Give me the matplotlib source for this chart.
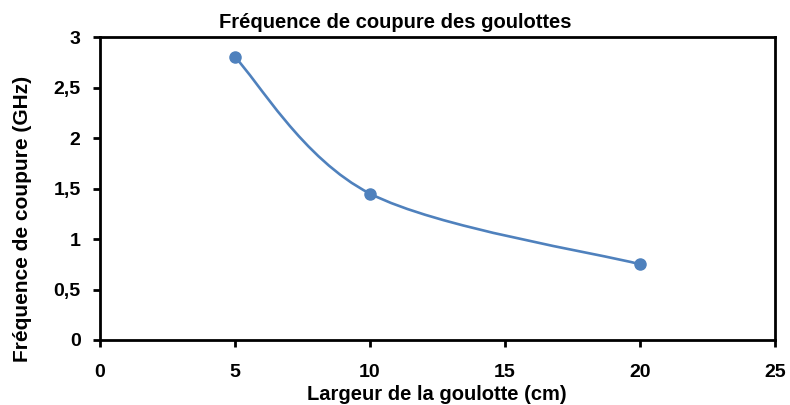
import matplotlib.pyplot as plt
import numpy as np
from matplotlib.path import Path
from matplotlib.patches import PathPatch

plt.rcParams['font.family'] = ['Liberation Sans', 'DejaVu Sans']
plt.rcParams['font.weight'] = 'bold'

# largeur de la goulotte (cm) et fréquence de coupure (GHz)
largeur = [5, 10, 20]
frequence = [2.8, 1.45, 0.75]

x_ticks = [0, 5, 10, 15, 20, 25]
y_ticks = [0, 0.5, 1, 1.5, 2, 2.5, 3]
y_labels = ['0', '0,5', '1', '1,5', '2', '2,5', '3']

bleu = '#4F81BD'

fig = plt.figure(figsize=(7.9, 4.05), dpi=100)
ax = fig.add_axes([0.1266, 0.1605, 0.8544, 0.748])

# courbe lissée façon tableur : segments de Bézier cubiques
pts = np.column_stack([largeur, frequence]).astype(float)
n = len(pts)
verts = [pts[0]]
codes = [Path.MOVETO]
for i in range(n - 1):
    p_prev = pts[i - 1] if i > 0 else pts[i]
    p_next = pts[i + 2] if i + 2 < n else pts[i + 1]
    c1 = pts[i] + (pts[i + 1] - p_prev) / 6
    c2 = pts[i + 1] - (p_next - pts[i]) / 6
    verts += [c1, c2, pts[i + 1]]
    codes += [Path.CURVE4] * 3
ax.add_patch(PathPatch(Path(verts, codes), fill=False, edgecolor=bleu, lw=1.9))
ax.plot(largeur, frequence, 'o', color=bleu, markersize=8, zorder=3)

ax.set_xlim(0, 25)
ax.set_ylim(0, 3)
ax.set_xticks(x_ticks)
ax.set_yticks(y_ticks)
ax.set_yticklabels(y_labels)
ax.tick_params(direction='out', length=5, width=2, labelsize=14)
ax.tick_params(axis='y', pad=9)
ax.tick_params(axis='x', pad=12)

for s in ax.spines.values():
    s.set_linewidth(2)

# titre centré sur la figure
fig.text(0.5, 0.931, 'Fréquence de coupure des goulottes', ha='center', va='baseline',
         fontsize=14.5, fontweight='bold')
fig.text(0.553, 0.013, 'Largeur de la goulotte (cm)', ha='center', va='baseline',
         fontsize=14.5, fontweight='bold')
fig.text(0.028, 0.46, 'Fréquence de coupure (GHz)', rotation=90, ha='center', va='center',
         fontsize=15, fontweight='bold')

fig.savefig('out.png', dpi=100)
